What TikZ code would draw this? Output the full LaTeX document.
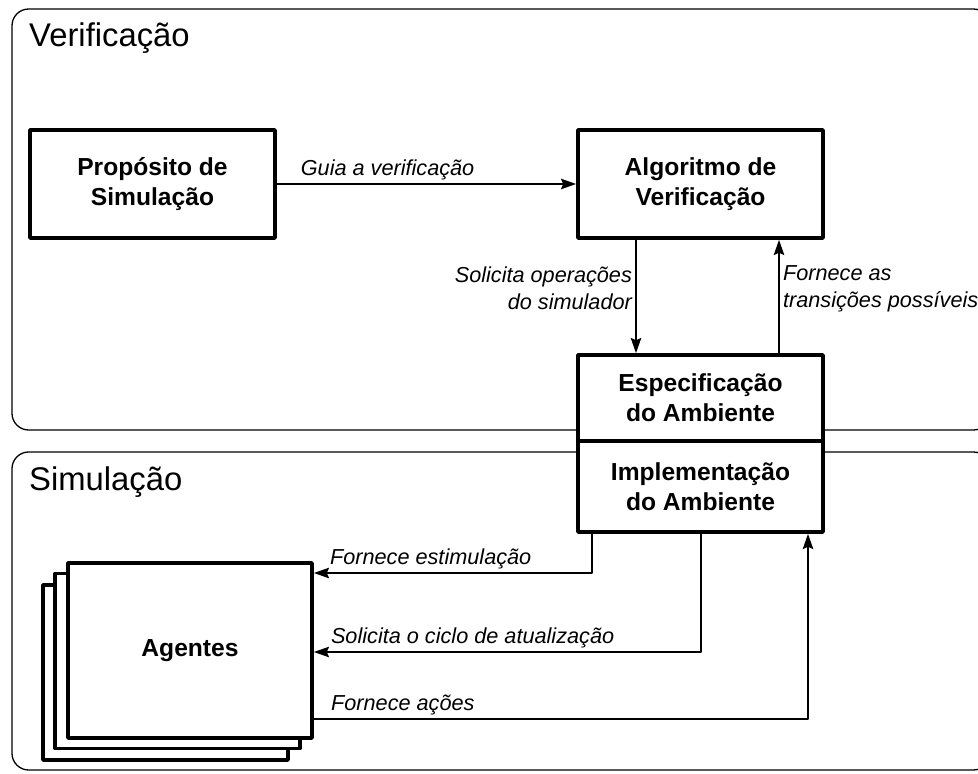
\documentclass[tikz,border=0pt]{standalone}
\usepackage{fontspec}
\setmainfont{Liberation Sans}
\usetikzlibrary{arrows.meta}

\begin{document}
\begin{tikzpicture}[x=0.03cm, y=0.03cm, >={Stealth[length=13pt,width=9pt,inset=2pt]}, line join=round,
	caixa/.style={draw, line width=3.2pt, fill=white, minimum width=\largura, align=center, inner sep=0pt, font=\bfseries\fontsize{21}{25.6}\selectfont},
	rotulo/.style={font=\itshape\fontsize{18.5}{23}\selectfont, inner sep=3pt},
	titulo/.style={anchor=base west, inner sep=0pt, font=\fontsize{28}{32}\selectfont},
	grupo/.style={draw, line width=1.1pt, rounded corners=0.5cm},
	seta/.style={->, line width=1pt}]
	\def\largura{7.35cm} % largura das caixas
	\clip (0,0) rectangle (978,773);
	% grupos
	\draw[grupo] (12,343) rectangle (990,764);
	\draw[grupo] (12,3) rectangle (990,321);
	\node[titulo] (tverif) at (29,726) {Verificação};
	\node[titulo] (tsim) at (29,283) {Simulação};
	% caixas
	\node[caixa, minimum height=3.24cm] (prop) at (152.5,589) {Propósito de\\Simulação};
	\node[caixa, minimum height=3.24cm] (alg) at (700.5,589) {Algoritmo de\\Verificação};
	\node[caixa, minimum height=2.58cm] (spec) at (700.5,375) {Especificação\\do Ambiente};
	\node[caixa, minimum height=2.73cm] (impl) at (700.5,286.5) {Implementação\\do Ambiente};
	\node[caixa, minimum height=5.25cm] (ag3) at (165.5,100.5) {};
	\node[caixa, minimum height=5.25cm] (ag2) at (177.5,112) {};
	\node[caixa, minimum width=7.32cm, minimum height=5.25cm] (ag) at (190,122.5) {Agentes};
	% pontos auxiliares
	\coordinate (xdesce) at (636,0); \coordinate (xsobe) at (779,0);
	\coordinate (xestim) at (592,0); \coordinate (xciclo) at (701,0); \coordinate (xacoes) at (808,0);
	\coordinate (yestim) at (0,200); \coordinate (yciclo) at (0,121); \coordinate (yacoes) at (0,54);
	% setas
	\draw[seta] (prop) -- (alg) node[rotulo, pos=0.37, above] {Guia a verificação};
	\draw[seta] (alg.south -| xdesce) -- (spec.north -| xdesce) node[rotulo, pos=0.43, left, align=right] {Solicita operações\\do simulador};
	\draw[seta] (spec.north -| xsobe) -- (alg.south -| xsobe) node[rotulo, pos=0.57, right, align=left] {Fornece as\\transições possíveis};
	\draw[seta] (impl.south -| xestim) |- (ag.east |- yestim) node[rotulo, pos=0.79, above] {Fornece estimulação};
	\draw[seta] (impl.south -| xciclo) |- (ag.east |- yciclo) node[rotulo, pos=0.795, above] {Solicita o ciclo de atualização};
	\draw[seta] (ag.east |- yacoes) -| (impl.south -| xacoes) node[rotulo, pos=0.09, above] {Fornece ações};
\end{tikzpicture}
\end{document}
